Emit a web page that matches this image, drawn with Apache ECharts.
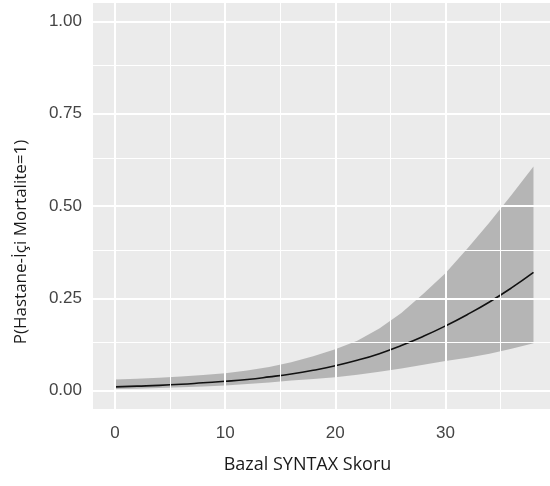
<!DOCTYPE html>
<html>
<head>
<meta charset="utf-8">
<script src="https://cdn.jsdelivr.net/npm/echarts@6/dist/echarts.min.js"></script>
<style>
  html, body { margin: 0; padding: 0; background: #fff; }
  #chart { width: 550px; height: 486px; }
</style>
</head>
<body>
<div id="chart"></div>
<script>
// values
const syntax = [0, 2, 4, 6, 8, 10, 12, 14, 16, 18, 20, 22, 24, 26, 28, 30, 32, 34, 36, 38]
const fit = [0.010, 0.012, 0.014, 0.017, 0.021, 0.025, 0.030, 0.037, 0.045, 0.055, 0.067, 0.082, 0.100, 0.122, 0.147, 0.175, 0.206, 0.240, 0.278, 0.320]
const lower = [0.004, 0.005, 0.007, 0.009, 0.011, 0.014, 0.018, 0.022, 0.027, 0.031, 0.036, 0.043, 0.051, 0.060, 0.070, 0.080, 0.089, 0.100, 0.113, 0.128]
const upper = [0.030, 0.032, 0.035, 0.038, 0.042, 0.047, 0.054, 0.064, 0.077, 0.093, 0.112, 0.135, 0.168, 0.210, 0.262, 0.318, 0.385, 0.455, 0.530, 0.607]

const xTicks = [0, 10, 20, 30]
const xMinor = [5, 15, 25, 35]
const yTicks = [0, 0.25, 0.5, 0.75, 1]
const yMinor = [0.125, 0.375, 0.625, 0.875]

const bandData = syntax.map((x, i) => [x, lower[i], upper[i]])
const fitData = syntax.map((x, i) => [x, fit[i]])

const gridLines = []
xTicks.forEach(v => gridLines.push({ xAxis: v, lineStyle: { width: 2 } }))
xMinor.forEach(v => gridLines.push({ xAxis: v, lineStyle: { width: 1 } }))
yTicks.forEach(v => gridLines.push({ yAxis: v, lineStyle: { width: 2 } }))
yMinor.forEach(v => gridLines.push({ yAxis: v, lineStyle: { width: 1 } }))

const labelStyle = { fontFamily: 'Liberation Sans', fontSize: 17, color: '#444' }
const nameStyle = { fontFamily: 'Open Sans', fontSize: 18, color: '#1a1a1a' }

// band polygon: drawn once, from all points through the axes
function renderBand(params, api) {
  if (params.dataIndex !== 0) return
  const top = bandData.map(d => api.coord([d[0], d[2]]))
  const bottom = bandData.map(d => api.coord([d[0], d[1]])).reverse()
  return {
    type: 'polygon',
    shape: { points: top.concat(bottom) },
    style: { fill: 'rgba(128,128,128,0.5)' },
  }
}

const option = {
  animation: false,
  grid: {
    left: 93,
    right: 0,
    top: 3,
    bottom: 77,
    show: true,
    backgroundColor: '#ebebeb',
    borderWidth: 0,
  },
  xAxis: {
    type: 'value',
    min: -2,
    max: 39.5,
    name: 'Bazal SYNTAX Skoru',
    nameLocation: 'middle',
    nameGap: 47,
    nameTextStyle: Object.assign({ padding: [0, 28, 0, 0] }, nameStyle),
    axisLine: { show: false },
    axisTick: { show: true, customValues: xTicks, length: 4, lineStyle: { color: '#333', width: 2 } },
    axisLabel: { customValues: xTicks, margin: 16, ...labelStyle },
    splitLine: { show: false },
  },
  yAxis: {
    type: 'value',
    min: -0.05,
    max: 1.05,
    name: 'P(Hastane-İçi Mortalite=1)',
    nameLocation: 'middle',
    nameGap: 63,
    nameTextStyle: Object.assign({ padding: [0, 72, 0, 0] }, nameStyle, { fontSize: 17 }),
    axisLine: { show: false },
    axisTick: { show: true, customValues: yTicks, length: 5, lineStyle: { color: '#333', width: 2 } },
    axisLabel: { customValues: yTicks, margin: 11, formatter: v => v.toFixed(2), ...labelStyle },
    splitLine: { show: false },
  },
  series: [
    {
      type: 'line',
      data: [],
      silent: true,
      markLine: {
        silent: true,
        symbol: 'none',
        label: { show: false },
        lineStyle: { color: '#ffffff', type: 'solid' },
        data: gridLines,
      },
      z: 1,
    },
    {
      type: 'custom',
      data: bandData,
      renderItem: renderBand,
      encode: { x: 0, y: [1, 2] },
      silent: true,
      z: 2,
    },
    {
      type: 'line',
      data: fitData,
      symbol: 'none',
      smooth: true,
      lineStyle: { color: '#111', width: 1.6 },
      z: 3,
    },
  ],
}

const chart = echarts.init(document.getElementById('chart'))
chart.setOption(option)
</script>
</body>
</html>
